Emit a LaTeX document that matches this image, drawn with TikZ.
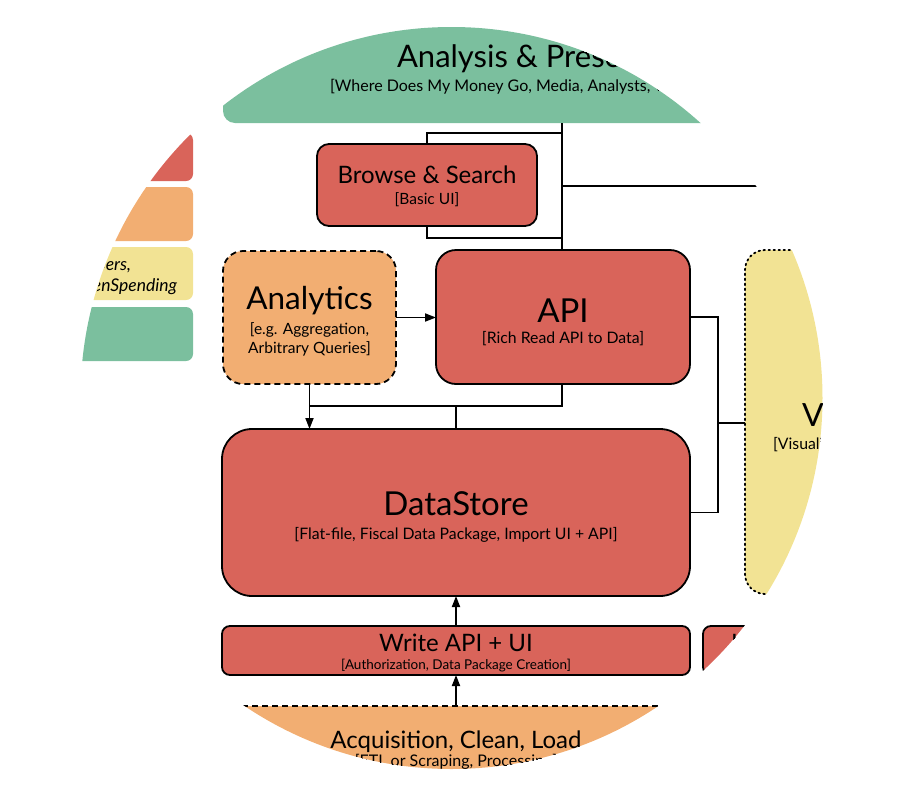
\documentclass[tikz,border=0pt]{standalone}
\usepackage{fontspec}
\setmainfont{Lato}
\usetikzlibrary{arrows.meta}
\definecolor{cred}{RGB}{217,100,90}
\definecolor{corange}{RGB}{242,174,114}
\definecolor{cyellow}{RGB}{242,227,148}
\definecolor{cgreen}{RGB}{123,191,158}
\newcommand{\fs}[1]{\fontsize{#1}{#1}\selectfont}
\begin{document}
\begin{tikzpicture}[x=1pt,y=-1pt,
  box/.style={rectangle, inner sep=0pt, outer sep=0pt, line width=1.8pt},
  redbox/.style={box, draw=black, fill=cred},
  conn/.style={line width=1.8pt},
  arr/.style={conn, -{Triangle[length=11pt,width=8pt]}},
  ttl/.style={anchor=base, inner sep=0pt, outer sep=0pt},
  dashbox/.style={dash pattern=on 6pt off 4pt},
  dotbox/.style={dash pattern=on 1.6pt off 3.4pt, line cap=round}
]
\useasboundingbox (0,0) rectangle (903,793);
\begin{scope}
\clip (451.5,398) circle[radius=371pt];
% top layer
\node[box, fill=cgreen, rounded corners=12pt, minimum width=800pt, minimum height=160pt, anchor=south west] (analysis) at (223,123) {};
\node[ttl, anchor=base west, font=\fs{31}] (analysisT) at (397,67) {Analysis \& Presentation};
\node[ttl, anchor=base west, font=\fs{16}] (analysisS) at (330,91) {[Where Does My Money Go, Media, Analysts, Web Developers]};
% left column
\node[box, fill=cred, rounded corners=7pt, minimum width=200pt, minimum height=48pt, anchor=north east] (legR) at (193,133) {};
\node[box, fill=corange, rounded corners=7pt, minimum width=200pt, minimum height=54pt, anchor=north east] (legO) at (193,187) {};
\node[box, fill=cyellow, rounded corners=7pt, minimum width=200pt, minimum height=53pt, anchor=north east] (legY) at (193,247) {};
\node[box, fill=cgreen, rounded corners=7pt, minimum width=200pt, minimum height=54pt, anchor=north east] (legG) at (193,307) {};
\node[ttl, anchor=base east, font=\fs{17.5}\itshape] (legT1) at (131,270) {Developers,};
\node[ttl, anchor=base east, font=\fs{17.5}\itshape] (legT2) at (177,291) {Users of OpenSpending};
% browse
\node[redbox, rounded corners=12pt, minimum width=220pt, minimum height=82pt] (browse) at (427,185) {};
\node[ttl, font=\fs{24}] (browseT) at (427,183) {Browse \& Search};
\node[ttl, font=\fs{15.5}] (browseS) at (427,204) {[Basic UI]};
% analytics
\node[box, draw=black, dashbox, fill=corange, rounded corners=20pt, minimum width=173pt, minimum height=133pt] (analytics) at (309.5,317.5) {};
\node[ttl, font=\fs{31.5}] (analyticsT) at (309.5,309) {Analytics};
\node[ttl, font=\fs{15.5}] (analyticsS1) at (309.5,334) {[e.g. Aggregation,};
\node[ttl, font=\fs{15.5}] (analyticsS2) at (309.5,353) {Arbitrary Queries]};
% api
\node[redbox, rounded corners=20pt, minimum width=254pt, minimum height=134pt] (api) at (563,317) {};
\node[ttl, font=\fs{33}] (apiT) at (563,322) {API};
\node[ttl, font=\fs{15.8}] (apiS) at (563,343) {[Rich Read API to Data]};
% datastore
\node[redbox, rounded corners=30pt, minimum width=468pt, minimum height=167pt] (datastore) at (456,512.5) {};
\node[ttl, font=\fs{33}] (datastoreT) at (456,515) {DataStore};
\node[ttl, font=\fs{15.8}] (datastoreS) at (456,539) {[Flat-file, Fiscal Data Package, Import UI + API]};
% viz
\node[box, draw=black, dotbox, fill=cyellow, rounded corners=20pt, minimum width=160pt, minimum height=344pt] (viz) at (825,422) {};
\node[ttl, anchor=base west, font=\fs{32}] (vizT) at (802,426) {Visualization};
\node[ttl, anchor=base west, font=\fs{15.8}] (vizS) at (773,449) {[Visualization Libraries]};
% write api
\node[redbox, rounded corners=8pt, minimum width=468pt, minimum height=49pt] (writeapi) at (456,650.5) {};
\node[ttl, font=\fs{24}] (writeapiT) at (456,651) {Write API + UI};
\node[ttl, font=\fs{13.5}] (writeapiS) at (456,669) {[Authorization, Data Package Creation]};
\node[redbox, rounded corners=8pt, minimum width=197pt, minimum height=49pt] (rbox) at (801.5,650.5) {};
\node[ttl, anchor=base west, font=\fs{24}] (rboxT) at (731,651) {Import};
% acquisition
\node[box, fill=corange, minimum width=468pt, minimum height=144pt, anchor=north] (acq) at (456,706) {};
\draw[line width=1.8pt, dashbox] (acq.north west) -- (acq.north east);
\node[ttl, font=\fs{24}] (acqT) at (456,748) {Acquisition, Clean, Load};
\node[ttl, font=\fs{16}] (acqS) at (456,766) {[ETL or Scraping, Processing]};
% connectors
\coordinate (bx) at (562,0);
\coordinate (farR) at (800,186);
\draw[conn] (analysis.south -| bx) -- (api.north -| bx);
\draw[conn] (bx |- 0,133) -| (browse.north);
\draw[conn] (bx |- 0,238) -| (browse.south);
\draw[conn] (bx |- farR) -- (farR);
\draw[arr] (analytics.east) -- (api.west |- analytics.east);
\draw[arr] (analytics.south) -- (analytics.south |- datastore.north);
\draw[conn] (api.south -| bx) -- (562,406) -- (analytics.south |- 0,406);
\draw[conn] (datastore.north |- 0,406) -- (datastore.north);
\draw[conn] (api.east) -- (718,317) |- (datastore.east);
\draw[conn] (718,423) -- (viz.west |- 0,423);
\draw[arr] (writeapi.north) -- (datastore.south);
\draw[arr] (acq.north) -- (writeapi.south);
\end{scope}
\end{tikzpicture}
\end{document}
